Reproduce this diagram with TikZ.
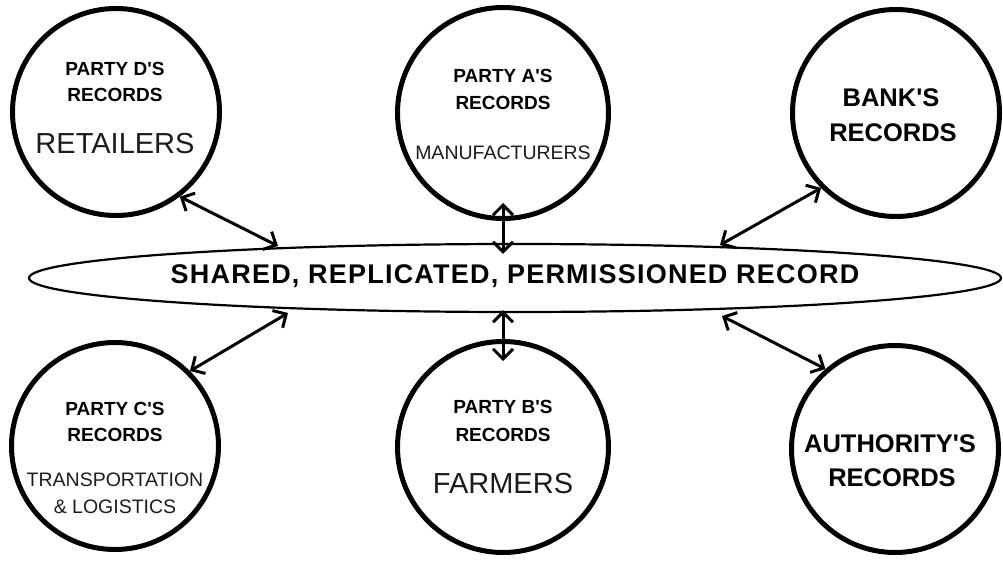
\documentclass[tikz,border=0pt]{standalone}
\usepackage{fontspec}
\setmainfont{Liberation Sans}[Ligatures=TeXOff]
\usetikzlibrary{shapes.geometric,arrows.meta,calc}
\definecolor{subgray}{HTML}{1C1C1C}
\begin{document}
\begin{tikzpicture}[x=1pt,y=-1pt,
  party/.style={circle,draw,line width=5pt,minimum size=207pt,inner sep=0pt},
  head/.style={font=\fontsize{19}{22}\selectfont\bfseries,anchor=base,inner sep=0pt},
  bighead/.style={font=\fontsize{25.5}{30}\selectfont\bfseries,anchor=base,inner sep=0pt},
  role/.style={font=\fontsize{19.5}{23}\selectfont,text=subgray,anchor=base,inner sep=0pt},
  bigrole/.style={font=\fontsize{29}{34}\selectfont,text=subgray,anchor=base,inner sep=0pt},
  link/.style={line width=3pt,{Straight Barb[length=10pt,width=20pt]}-{Straight Barb[length=10pt,width=20pt]}}
]
\useasboundingbox (0,0) rectangle (1003,561);

% shared ledger
\node[ellipse,draw,line width=2.2pt,minimum width=972pt,minimum height=68pt,inner sep=0pt] (rec) at (515,278) {};
\node[anchor=base,inner sep=0pt,font=\fontsize{27}{31}\selectfont\bfseries\addfontfeatures{LetterSpace=4.5}] (rectext) at (515,283.3) {SHARED, REPLICATED, PERMISSIONED RECORD};

% participants
\node[party] (D) at (116,112) {};
\node[party,minimum size=211pt] (A) at (503,113) {};
\node[party] (K) at (896,113) {};
\node[party] (C) at (115,446) {};
\node[party,minimum size=211pt] (B) at (503,447) {};
\node[party] (U) at (895,449) {};

% labels
\node[head] (d1) at (115,75.7) {PARTY D'S};
\node[head] (d2) at (115,101.7) {RECORDS};
\node[bigrole] (d3) at (115,154) {RETAILERS};

\node[head] (a1) at (503,82.7) {PARTY A'S};
\node[head] (a2) at (503,110) {RECORDS};
\node[role] (a3) at (503,159.3) {MANUFACTURERS};

\node[bighead] (k1) at (891,106.7) {BANK'S};
\node[bighead] (k2) at (893,141.7) {RECORDS};

\node[head] (c1) at (115,415) {PARTY C'S};
\node[head] (c2) at (115,441) {RECORDS};
\node[role] (c3) at (115,486.7) {TRANSPORTATION};
\node[role] (c4) at (115,513) {\& LOGISTICS};

\node[head] (b1) at (503,413.3) {PARTY B'S};
\node[head] (b2) at (503,441.7) {RECORDS};
\node[bigrole] (b3) at (503,493.3) {FARMERS};

\node[bighead] (u1) at (890,452.7) {AUTHORITY'S};
\node[bighead] (u2) at (892,486.7) {RECORDS};

% connections to the shared record
\draw[link] (D.-53) -- ($(rec.center)+(-237,-32)$);
\draw[link] (K.-135) -- ($(rec.center)+(205,-33)$);
\draw[link] (C.45) -- ($(rec.center)+(-227,35)$);
\draw[link] (U.131) -- ($(rec.center)+(207,38)$);
\draw[link] ([yshift=18pt]A.south) -- ($(A.south |- rec.north)+(0,11)$);
\draw[link] ($(B.north |- rec.south)+(0,-3)$) -- ([yshift=-22pt]B.north);
\end{tikzpicture}
\end{document}
